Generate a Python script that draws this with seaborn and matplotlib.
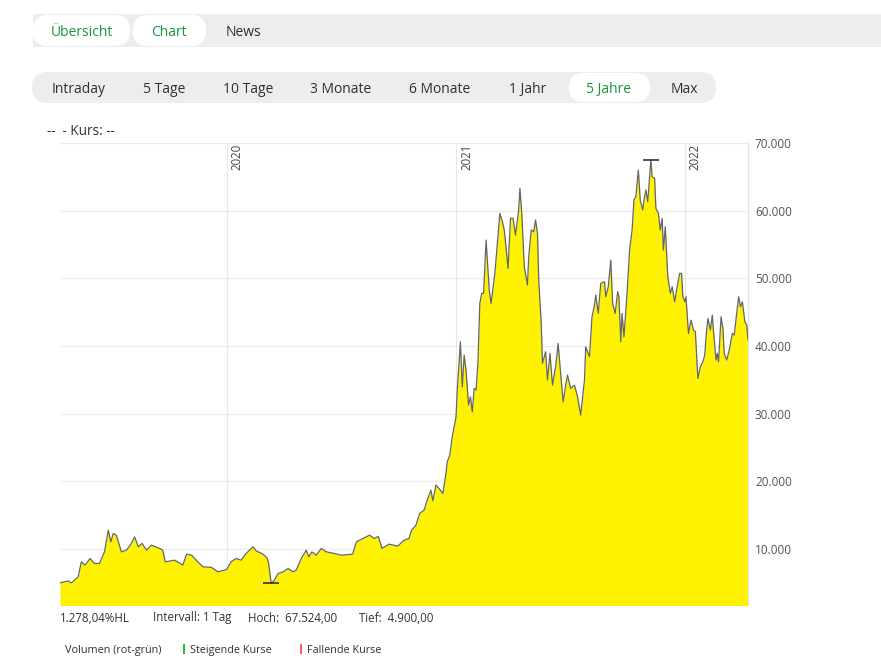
import pandas as pd
import matplotlib.pyplot as plt
from matplotlib.patches import FancyBboxPatch, Rectangle
import seaborn as sns

# Kursdaten, Schlusskurse
dates = [
    "2019-04-10", "2019-04-23", "2019-04-28", "2019-05-09", "2019-05-14", "2019-05-20", "2019-05-28",
    "2019-06-04", "2019-06-12", "2019-06-20", "2019-06-26", "2019-06-30", "2019-07-04", "2019-07-09",
    "2019-07-17", "2019-07-25", "2019-08-02", "2019-08-07", "2019-08-13", "2019-08-19", "2019-08-26",
    "2019-09-03", "2019-09-16", "2019-09-21", "2019-09-25", "2019-10-10", "2019-10-23", "2019-10-29",
    "2019-11-06", "2019-11-16", "2019-11-24", "2019-12-08", "2019-12-18", "2020-01-01", "2020-01-08",
    "2020-01-16", "2020-01-24", "2020-02-01", "2020-02-12", "2020-02-17", "2020-02-24", "2020-03-01",
    "2020-03-06", "2020-03-08", "2020-03-12", "2020-03-17", "2020-03-23", "2020-03-31", "2020-04-08",
    "2020-04-16", "2020-04-21", "2020-04-29", "2020-05-07", "2020-05-11", "2020-05-16", "2020-05-23",
    "2020-05-31", "2020-06-08", "2020-06-21", "2020-07-02", "2020-07-20", "2020-07-26", "2020-08-05",
    "2020-08-16", "2020-08-24", "2020-08-30", "2020-09-05", "2020-09-16", "2020-09-30", "2020-10-10",
    "2020-10-18", "2020-10-22", "2020-10-29", "2020-11-04", "2020-11-11", "2020-11-16", "2020-11-22",
    "2020-11-25", "2020-11-30", "2020-12-05", "2020-12-11", "2020-12-16", "2020-12-18", "2020-12-22",
    "2020-12-26", "2021-01-01", "2021-01-03", "2021-01-08", "2021-01-11", "2021-01-14", "2021-01-17",
    "2021-01-21", "2021-01-24", "2021-01-27", "2021-01-30", "2021-02-02", "2021-02-05", "2021-02-08",
    "2021-02-11", "2021-02-14", "2021-02-18", "2021-02-23", "2021-02-26", "2021-03-04", "2021-03-08",
    "2021-03-12", "2021-03-16", "2021-03-19", "2021-03-22", "2021-03-25", "2021-03-29", "2021-04-02",
    "2021-04-06", "2021-04-11", "2021-04-13", "2021-04-16", "2021-04-20", "2021-04-25", "2021-04-27",
    "2021-05-01", "2021-05-05", "2021-05-08", "2021-05-11", "2021-05-13", "2021-05-17", "2021-05-19",
    "2021-05-24", "2021-05-27", "2021-05-31", "2021-06-04", "2021-06-09", "2021-06-13", "2021-06-17",
    "2021-06-21", "2021-06-25", "2021-06-28", "2021-07-03", "2021-07-09", "2021-07-14", "2021-07-19",
    "2021-07-25", "2021-07-27", "2021-08-02", "2021-08-06", "2021-08-10", "2021-08-12", "2021-08-16",
    "2021-08-20", "2021-08-26", "2021-08-28", "2021-09-01", "2021-09-05", "2021-09-08", "2021-09-12",
    "2021-09-16", "2021-09-18", "2021-09-21", "2021-09-23", "2021-09-26", "2021-10-01", "2021-10-05",
    "2021-10-09", "2021-10-12", "2021-10-15", "2021-10-19", "2021-10-22", "2021-10-26", "2021-10-28",
    "2021-10-31", "2021-11-03", "2021-11-08", "2021-11-10", "2021-11-14", "2021-11-16", "2021-11-20",
    "2021-11-23", "2021-11-26", "2021-11-28", "2021-12-01", "2021-12-05", "2021-12-09", "2021-12-12",
    "2021-12-16", "2021-12-19", "2021-12-24", "2021-12-27", "2021-12-29", "2022-01-01", "2022-01-03",
    "2022-01-07", "2022-01-11", "2022-01-15", "2022-01-18", "2022-01-22", "2022-01-26", "2022-01-30",
    "2022-02-02", "2022-02-04", "2022-02-07", "2022-02-11", "2022-02-14", "2022-02-16", "2022-02-20",
    "2022-02-22", "2022-02-24", "2022-02-28", "2022-03-03", "2022-03-05", "2022-03-09", "2022-03-13",
    "2022-03-18", "2022-03-21", "2022-03-24", "2022-03-28", "2022-03-31", "2022-04-03", "2022-04-07",
    "2022-04-10", "2022-04-12",
]
kurs = [
    4970, 5260, 4970, 5860, 8080, 7590, 8580,
    7840, 7840, 9560, 12760, 11030, 12270, 12020,
    9560, 9810, 10800, 11780, 10300, 10800, 9810,
    10550, 10060, 9810, 8080, 8330, 7590, 9220,
    9070, 8080, 7350, 7250, 6600, 6950, 8080,
    8580, 8330, 9310, 10300, 9710, 9410, 9070,
    8580, 7840, 4900, 5370, 6350, 6600, 7100,
    6600, 6850, 8580, 9810, 8820, 9560, 9070,
    10060, 9560, 9310, 9070, 9220, 11030, 11520,
    12020, 11520, 11860, 10060, 10700, 10400, 11280,
    11520, 12760, 13500, 15230, 15720, 17200, 18680,
    17100, 19420, 18930, 18190, 21150, 22860, 23850,
    26560, 29520, 33470, 40610, 33960, 38640, 36430,
    31250, 32480, 30260, 33720, 33470, 37660, 46290,
    47770, 47770, 55650, 48260, 46290, 50730, 55160,
    59600, 58360, 57130, 54420, 51460, 58860, 58860,
    56390, 60090, 63300, 59600, 51710, 49000, 53090,
    57130, 56880, 58610, 56640, 49740, 43330, 37420,
    39140, 34950, 38890, 34210, 36920, 40370, 35940,
    31740, 34210, 35690, 33720, 34210, 32480, 29770,
    34950, 39870, 38400, 44310, 46040, 47520, 44810,
    49250, 49490, 47270, 48750, 52700, 46290, 44810,
    48010, 47270, 40610, 44810, 41350, 47770, 54170,
    57130, 61570, 62060, 66010, 61570, 60090, 61570,
    63050, 61320, 67524, 65020, 64780, 60340, 59600,
    57130, 58860, 54170, 57620, 50230, 47770, 48750,
    46530, 48260, 50730, 50730, 47270, 46530, 47270,
    41850, 43820, 42340, 42100, 35200, 36920, 37660,
    38640, 41350, 44070, 42340, 44560, 42100, 37910,
    38890, 37660, 44310, 42590, 38890, 37910, 39380,
    41850, 41600, 44070, 47270, 45790, 46530, 43580,
    43090, 40860,
]

year_labels = ["2020", "2021", "2022"]
y_ticks = [10000, 20000, 30000, 40000, 50000, 60000, 70000]

tabs = ["Übersicht", "Chart", "News"]
ranges = ["Intraday", "5 Tage", "10 Tage", "3 Monate", "6 Monate", "1 Jahr", "5 Jahre", "Max"]
stats = ["1.278,04%HL", "Intervall: 1 Tag", "Hoch:  67.524,00", "Tief:  4.900,00"]

sns.set_theme(style="white")
plt.rcParams["font.family"] = ["Open Sans", "DejaVu Sans"]

GREEN = "#17963c"
DARK = "#2e2e38"
YELLOW = "#fff200"
LINE = "#62666c"

fig = plt.figure(figsize=(8.81, 6.58), dpi=100)

# page layer in pixel coordinates
bg = fig.add_axes([0, 0, 1, 1])
bg.set_xlim(0, 881)
bg.set_ylim(658, 0)
bg.axis("off")

bg.add_patch(Rectangle((33, 14), 848, 33, color="#ededed", lw=0))
for x0, w in [(33, 97), (133, 73)]:
    bg.add_patch(FancyBboxPatch((x0, 15), w, 31, boxstyle="round,pad=0,rounding_size=15",
                                fc="white", ec="none"))
for label, cx, col in zip(tabs, [82, 169, 243], [GREEN, GREEN, DARK]):
    bg.text(cx, 35.5, label, ha="center", va="baseline", fontsize=10, color=col)

bg.add_patch(FancyBboxPatch((32, 72), 684, 31, boxstyle="round,pad=0,rounding_size=15.5",
                            fc="#ededed", ec="none"))
bg.add_patch(FancyBboxPatch((569, 73), 81, 29, boxstyle="round,pad=0,rounding_size=14.5",
                            fc="white", ec="none"))
for label, cx in zip(ranges, [79, 164, 248, 341, 440, 528, 609, 684]):
    col = GREEN if label == "5 Jahre" else DARK
    bg.text(cx, 93, label, ha="center", va="baseline", fontsize=10, color=col)

bg.text(47, 135, "--  - Kurs: --", ha="left", va="baseline", fontsize=9.8, color="#333333")

for label, x0 in zip(stats, [60, 153, 248, 359]):
    bg.text(x0, 621.5, label, ha="left", va="baseline", fontsize=8.3, color="#333333")

bg.text(65, 653, "Volumen (rot-grün)", ha="left", va="baseline", fontsize=7.8, color="#333333")
bg.add_patch(Rectangle((182.5, 644), 2, 10, color="#22c02a", lw=0))
bg.text(190, 653, "Steigende Kurse", ha="left", va="baseline", fontsize=7.8, color="#333333")
bg.add_patch(Rectangle((299.5, 644), 2, 10, color="#ff5b6b", lw=0))
bg.text(307, 653, "Fallende Kurse", ha="left", va="baseline", fontsize=7.8, color="#333333")

# price chart
df = pd.DataFrame({"Datum": pd.to_datetime(dates), "Kurs": kurs})

ax = fig.add_axes([60 / 881, 1 - 605 / 658, 688 / 881, 462 / 658])
ax.fill_between(df["Datum"], df["Kurs"], 0, color=YELLOW, lw=0, zorder=2)
sns.lineplot(data=df, x="Datum", y="Kurs", ax=ax, color=LINE, linewidth=0.9, zorder=3)

ax.set_xlim(df["Datum"].iloc[0], df["Datum"].iloc[-1])
ax.set_ylim(1700, 70000)
ax.set_yticks(y_ticks)
ax.set_yticklabels([f"{v:,.0f}".replace(",", ".") for v in y_ticks])
ax.yaxis.tick_right()
ax.tick_params(axis="y", length=0, pad=5, labelsize=8.5, labelcolor="#555555")
ax.set_xticks([])
ax.set_xlabel("")
ax.set_ylabel("")
ax.grid(axis="y", color="#ececec", lw=0.9, zorder=1)
for s in ["top", "left", "bottom"]:
    ax.spines[s].set_visible(False)
ax.spines["right"].set_color("#e4e4e4")
ax.spines["right"].set_linewidth(1)

for yl in year_labels:
    d = pd.Timestamp(f"{yl}-01-01")
    ax.axvline(d, color="#e8e8e8", lw=0.9, zorder=1)
    ax.annotate(yl, xy=(d, 1), xycoords=("data", "axes fraction"), xytext=(4, -1),
                textcoords="offset pixels", rotation=90, ha="left", va="top",
                fontsize=8.3, color="#444444", zorder=4)

# Hoch / Tief markers
hi = df.loc[df["Kurs"].idxmax()]
lo = df.loc[df["Kurs"].idxmin()]
ax.plot([hi["Datum"]], [hi["Kurs"]], marker="_", markersize=11, mew=1.2, color="#333333", zorder=4)
ax.plot([lo["Datum"]], [lo["Kurs"]], marker="_", markersize=11, mew=1.2, color="#333333", zorder=4)

fig.savefig("out.png", dpi=100)
